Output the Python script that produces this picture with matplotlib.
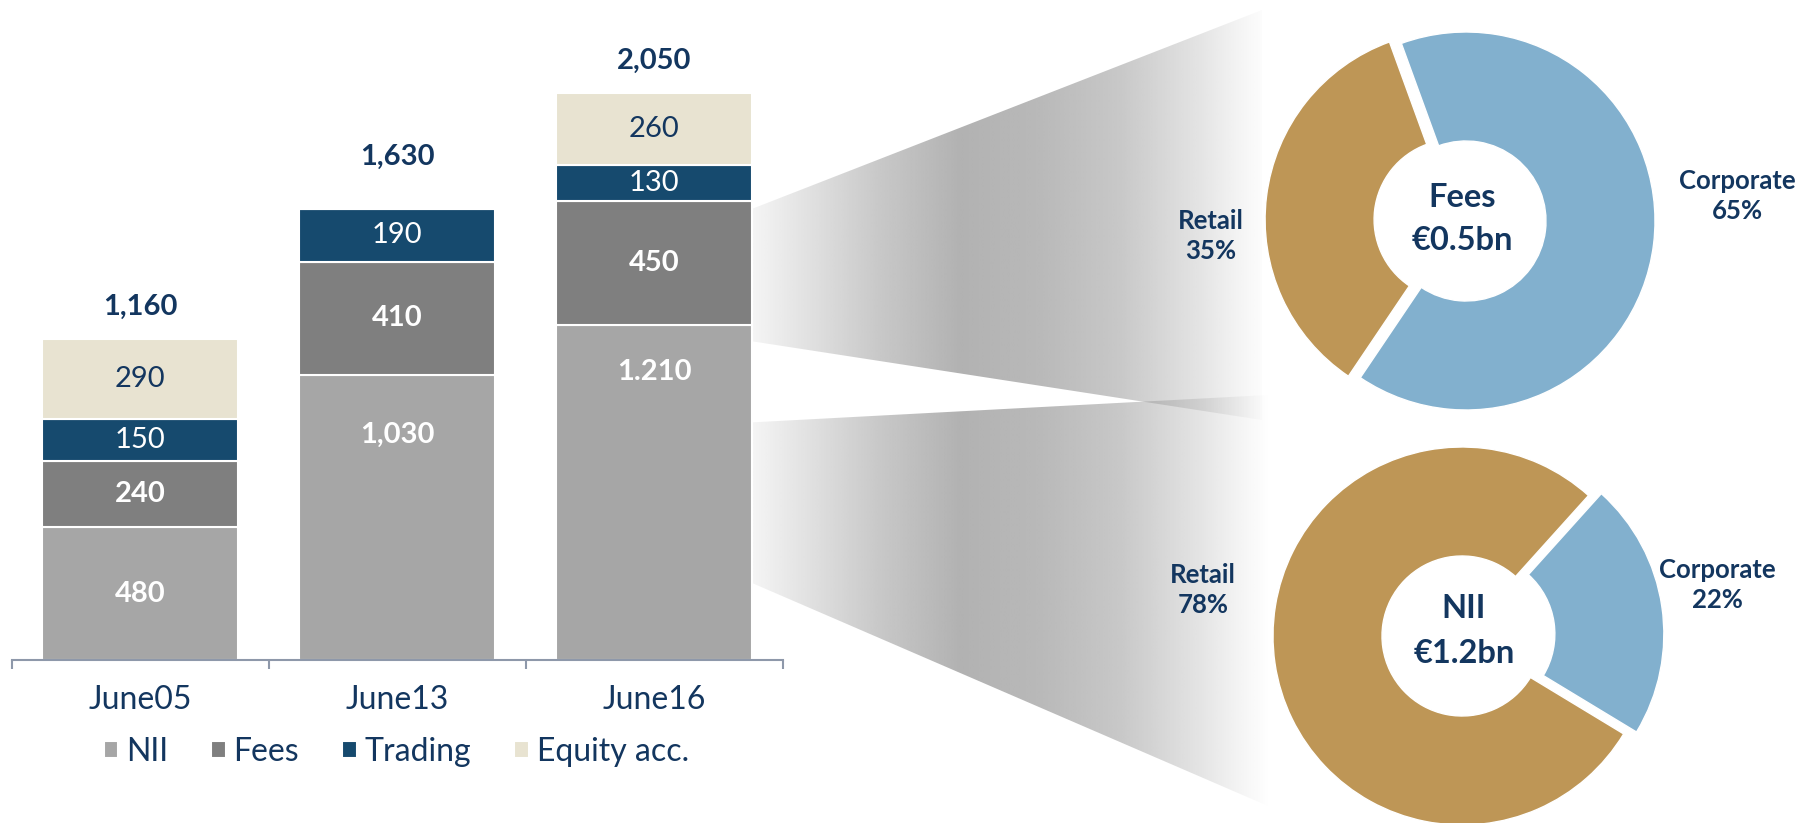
import numpy as np
import matplotlib.pyplot as plt
from matplotlib.patches import Polygon

plt.rcParams['font.family'] = ['Lato', 'DejaVu Sans']

# --- data -------------------------------------------------------------
periods = ['June05', 'June13', 'June16']
nii = np.array([480, 1030, 1210])
fees = np.array([240, 410, 450])
trading = np.array([150, 190, 130])
equity = np.array([290, 0, 260])
nii_text = ['480', '1,030', '1.210']   # as printed on the slide

split_names = ['Retail', 'Corporate']
fees_split = [35, 65]
nii_split = [78, 22]
fees_center = 'Fees\n€0.5bn'
nii_center = 'NII\n€1.2bn'

NAVY = '#13365F'
GOLD = '#BE9656'
LBLUE = '#82B0CE'
AXIS = '#8E98AA'

W, H = 1800, 823
fig = plt.figure(figsize=(W / 100, H / 100), dpi=100)

# background axes in pixel units (y up) for funnels and donuts
bg = fig.add_axes([0, 0, 1, 1], zorder=0)
bg.axis('off')

# --- stacked bars -----------------------------------------------------
ppu = 0.2766          # pixels per unit on the bar axis
ax_h = 620
ax = fig.add_axes([11.5 / W, 163 / H, 771 / W, ax_h / H], zorder=1)
ax.patch.set_visible(False)
x = np.arange(len(periods))
bw = 0.763

series = [
    ('NII', nii, '#A6A6A6', 'white', 'bold'),
    ('Fees', fees, '#7F7F7F', 'white', 'bold'),
    ('Trading', trading, '#164A6E', 'white', 'normal'),
    ('Equity acc.', equity, '#E8E3D1', NAVY, 'normal'),
]
# NII labels sit higher in the taller bars (fraction of segment height)
nii_label_pos = [0.5, 0.79, 0.86]

bottom = np.zeros(len(periods))
for name, vals, col, tcol, tw in series:
    bars = ax.bar(x, vals, bw, bottom=bottom, color=col, edgecolor='white',
                  linewidth=1.5, label=name)
    if name == 'NII':
        for xi, v, s, f in zip(x, vals, nii_text, nii_label_pos):
            ax.text(xi, v * f, s, ha='center', va='center', color=tcol,
                    fontsize=21, fontweight=tw)
    else:
        labels = [f'{v:,}' if v else '' for v in vals]
        ax.bar_label(bars, labels=labels, label_type='center', color=tcol,
                     fontsize=21, fontweight=tw)
    bottom = bottom + vals

total_pad = [32, 52, 32]   # px above bar top
for xi, t, p in zip(x, bottom, total_pad):
    ax.annotate(f'{int(t):,}', (xi, t), xytext=(0, p * 0.72),
                textcoords='offset points', ha='center', va='center',
                fontsize=21, fontweight='bold', color=NAVY)

ax.set_xlim(-0.5, 2.5)
ax.set_ylim(0, ax_h / ppu)
for s in ['left', 'right', 'top']:
    ax.spines[s].set_visible(False)
ax.spines['bottom'].set_color(AXIS)
ax.spines['bottom'].set_linewidth(1.5)
ax.set_yticks([])
ax.set_xticks(x, periods)
ax.tick_params(axis='x', length=0, pad=18, labelsize=23, labelcolor=NAVY)
ax.set_xticks([-0.5, 0.5, 1.5, 2.5], minor=True)
ax.tick_params(axis='x', which='minor', length=6.5, width=1.5, color=AXIS)

ax.legend(loc='center', bbox_to_anchor=(0.499, -0.148), ncol=4,
          frameon=False, fontsize=23, labelcolor=NAVY,
          handlelength=0.45, handleheight=0.45, handletextpad=0.25,
          columnspacing=1.35)

# --- gradient funnels from the last bar to the donuts -----------------
grad_x = [752, 800, 880, 960, 1040, 1120, 1200, 1250, 1270]
grad_g = [245, 228, 200, 178, 185, 200, 228, 248, 255]


def funnel(lx, llo, lhi, rx, rlo, rhi):
    poly = Polygon([(lx, llo), (lx, lhi), (rx, rhi), (rx, rlo)], closed=True,
                   facecolor='none', edgecolor='none')
    bg.add_patch(poly)
    xs = np.linspace(lx, rx, 400)
    g = np.interp(xs, grad_x, grad_g)
    img = np.zeros((1, len(xs), 4))
    img[..., :3] = 140 / 255
    img[..., 3] = np.clip((255 - g) / 115, 0, 1)
    im = bg.imshow(img, extent=[lx, rx, min(llo, rlo), max(lhi, rhi)],
                   aspect='auto', interpolation='bilinear', zorder=0.5)
    im.set_clip_path(poly)


last = len(periods) - 1
bx = ax.transData.transform((last + bw / 2, 0))[0]
fees_lo = ax.transData.transform((0, nii[last]))[1] - 16
fees_hi = ax.transData.transform((0, nii[last] + fees[last]))[1] - 8
nii_lo = ax.transData.transform((0, nii[last] * 0.23))[1]
nii_hi = ax.transData.transform((0, nii[last] * 0.71))[1]

funnel(bx, fees_lo, fees_hi, 1262, H - 420, H - 10)
funnel(bx, nii_lo, nii_hi, 1268, H - 806, H - 395)

# --- donuts -----------------------------------------------------------
R = 189
fees_c = (1466, H - 221)
nii_c = (1462, H - 636)

bg.pie(fees_split, colors=[GOLD, LBLUE], radius=R, center=fees_c,
       startangle=110, explode=[12, 0],
       wedgeprops=dict(width=109, edgecolor='white', linewidth=1))
bg.pie(nii_split, colors=[GOLD, LBLUE], radius=R, center=nii_c,
       startangle=48, explode=[0, 13],
       wedgeprops=dict(width=109, edgecolor='white', linewidth=1))

txt = dict(ha='center', va='center', fontweight='bold', color=NAVY)
bg.text(fees_c[0] - 4, fees_c[1] + 2, fees_center, fontsize=23.5,
        linespacing=1.6, **txt)
bg.text(nii_c[0] + 2, nii_c[1] + 5, nii_center, fontsize=23.5,
        linespacing=1.7, **txt)

fees_lab = [(-255, -15), (271, 25)]
nii_lab = [(-259, 46), (255, 51)]
for c, split, offs in [(fees_c, fees_split, fees_lab), (nii_c, nii_split, nii_lab)]:
    for name, v, (dx, dy) in zip(split_names, split, offs):
        bg.text(c[0] + dx, c[1] + dy, f'{name}\n{v}%', fontsize=18.5,
                linespacing=1.27, **txt)

bg.set_aspect('auto')
bg.set_xlim(0, W)
bg.set_ylim(0, H)
bg.axis('off')

fig.savefig('out.png', dpi=100, facecolor='white')
